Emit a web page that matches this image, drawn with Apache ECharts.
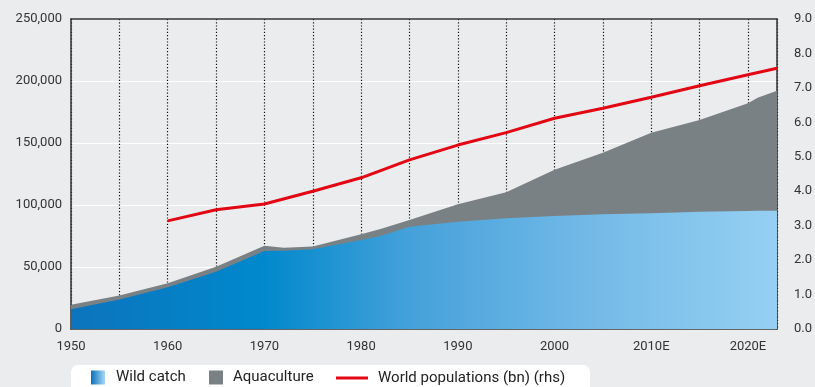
<!DOCTYPE html>
<html>
<head>
<meta charset="utf-8">
<script src="https://cdn.jsdelivr.net/npm/echarts@6/dist/echarts.min.js"></script>
<style>
html,body{margin:0;padding:0;background:#ebecee;}
#chart{width:815px;height:387px;}
</style>
</head>
<body>
<div id="chart"></div>
<script>
// Data (thousand tonnes for fish, billions for population)
const years = [1950, 1955, 1960, 1965, 1970, 1972, 1975, 1980, 1982, 1985, 1990, 1995, 2000, 2005, 2010, 2015, 2020, 2021, 2023];
// top edge of the blue (wild catch) area
const wildCatch = [16000, 23800, 33600, 46200, 62900, 63200, 64300, 71800, 75000, 82500, 86500, 89300, 91100, 92500, 93300, 94600, 95200, 95300, 95400];
// top edge of the grey area (wild catch + aquaculture)
const totalWithAquaculture = [19600, 27000, 36900, 50200, 67200, 65600, 66600, 76400, 80600, 87900, 100600, 110300, 128500, 142200, 158300, 168500, 182000, 186500, 192200];
const popYears = [1960, 1965, 1970, 1975, 1980, 1985, 1990, 1995, 2000, 2005, 2010, 2015, 2020, 2023];
const population = [3.14, 3.46, 3.63, 4.0, 4.39, 4.91, 5.34, 5.70, 6.12, 6.41, 6.73, 7.06, 7.38, 7.57];
const seriesNames = ['Wild catch', 'Aquaculture', 'World populations (bn) (rhs)'];

const pair = (xs, ys) => xs.map((x, i) => [x, ys[i]]);
const font = 'Roboto, "Liberation Sans", sans-serif';
const wildGradient = new echarts.graphic.LinearGradient(0, 0, 1, 0, [
  {offset: 0, color: '#0c74bd'},
  {offset: 0.27, color: '#0088cc'},
  {offset: 0.48, color: '#45a1da'},
  {offset: 0.75, color: '#75bbe8'},
  {offset: 1, color: '#95d0f2'}
]);
const legendGradient = new echarts.graphic.LinearGradient(0, 0, 1, 0, [
  {offset: 0, color: '#0a70ba'},
  {offset: 1, color: '#a6d8f5'}
]);

const chart = echarts.init(document.getElementById('chart'), null, {renderer: 'canvas'});
const legendText = {fontFamily: font, fontSize: 15, color: '#222', padding: [0, 0, 0, 6]};
chart.setOption({
  backgroundColor: '#ebecee',
  animation: false,
  grid: {left: 71, right: 35, top: 19, bottom: 58, containLabel: false},
  graphic: [{
    type: 'rect', z: 0, silent: true,
    shape: {x: 71, y: 365, width: 519, height: 40, r: 7},
    style: {fill: '#ffffff'}
  }],
  legend: [
    {data: [{name: seriesNames[0], icon: 'rect', itemStyle: {color: legendGradient}}],
     left: 91, top: 370, itemWidth: 14, itemHeight: 14, padding: 0, z: 10, textStyle: legendText, selectedMode: false},
    {data: [{name: seriesNames[1], icon: 'rect'}],
     left: 209, top: 370, itemWidth: 14, itemHeight: 14, padding: 0, z: 10, textStyle: Object.assign({}, legendText, {padding: [0, 0, 0, 5]}), selectedMode: false},
    {data: [{name: seriesNames[2], icon: 'path://M0,0H32V3H0Z'}],
     left: 336, top: 370.5, itemWidth: 32, itemHeight: 3, padding: 0, z: 10, textStyle: Object.assign({}, legendText, {padding: [0, 0, 0, 5]}), selectedMode: false}
  ],
  xAxis: [{
    type: 'value', min: 1950, max: 2023, interval: 5, position: 'bottom',
    axisLine: {show: true, onZero: false, lineStyle: {color: '#333', width: 1.5}},
    axisTick: {show: false},
    axisLabel: {
      margin: 11, fontFamily: font, fontSize: 13, color: '#333',
      formatter: v => (v % 10 === 0 ? (v >= 2010 ? v + 'E' : String(v)) : '')
    },
    splitLine: {show: true, lineStyle: {color: '#111', width: 1.2, type: [1.2, 2]}}
  }, {
    type: 'value', min: 1950, max: 2023, position: 'top',
    axisLine: {show: true, onZero: false, lineStyle: {color: '#333', width: 1.5}},
    axisTick: {show: false}, axisLabel: {show: false}, splitLine: {show: false}
  }],
  yAxis: [{
    type: 'value', min: 0, max: 250000, interval: 50000, position: 'left',
    axisLine: {show: true, lineStyle: {color: '#333', width: 1.5}},
    axisTick: {show: false},
    axisLabel: {margin: 9, fontFamily: font, fontSize: 13, color: '#333',
      formatter: v => v.toLocaleString('en-US')},
    splitLine: {show: true, lineStyle: {color: '#ffffff', width: 1}}
  }, {
    type: 'value', min: 0, max: 9, interval: 1, position: 'right',
    axisLine: {show: true, lineStyle: {color: '#333', width: 1.5}},
    axisTick: {show: false},
    axisLabel: {margin: 17, fontFamily: font, fontSize: 13, color: '#333',
      formatter: v => v.toFixed(1)},
    splitLine: {show: false}
  }],
  series: [{
    name: seriesNames[1], type: 'line', symbol: 'none',
    data: pair(years, totalWithAquaculture),
    lineStyle: {width: 0}, itemStyle: {color: '#7a8185'},
    areaStyle: {color: '#7a8185', opacity: 1}, z: 2
  }, {
    name: seriesNames[0], type: 'line', symbol: 'none',
    data: pair(years, wildCatch),
    lineStyle: {width: 0}, itemStyle: {color: '#0088cc'},
    areaStyle: {color: wildGradient, opacity: 1}, z: 3
  }, {
    name: seriesNames[2], type: 'line', yAxisIndex: 1, symbol: 'none',
    data: pair(popYears, population),
    lineStyle: {color: '#e30613', width: 3}, itemStyle: {color: '#e30613'}, z: 5
  }]
});
</script>
</body>
</html>
